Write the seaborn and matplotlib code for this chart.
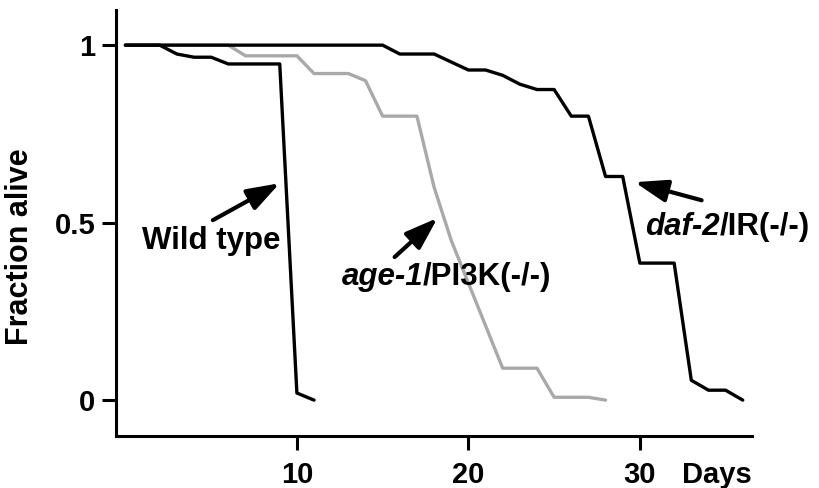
import pandas as pd
import matplotlib
matplotlib.use("Agg")
import matplotlib.pyplot as plt
import seaborn as sns

# survival curves (days, fraction alive)
wt_days = [0, 2, 3, 4, 5, 6, 9, 10, 11]
wt_alive = [1.0, 1.0, 0.975, 0.966, 0.966, 0.947, 0.947, 0.02, 0.0]

age1_days = [0, 6, 7, 10, 11, 13, 14, 15, 17, 18, 19, 22, 24, 25, 27, 28]
age1_alive = [1.0, 1.0, 0.97, 0.97, 0.92, 0.92, 0.90, 0.80, 0.80, 0.60, 0.45,
              0.09, 0.09, 0.008, 0.008, 0.0]

daf2_days = [0, 15, 16, 18, 20, 21, 22, 23, 24, 25, 26, 27, 28, 29, 30, 32,
             33, 34, 35, 36]
daf2_alive = [1.0, 1.0, 0.975, 0.975, 0.93, 0.93, 0.915, 0.89, 0.875, 0.875,
              0.80, 0.80, 0.63, 0.63, 0.386, 0.386, 0.056, 0.028, 0.028, 0.0]

x_ticks = [10, 20, 30]
y_ticks = [0, 0.5, 1]
y_tick_labels = ["0", "0.5", "1"]

sns.set_style("white")
plt.rcParams["font.family"] = ["Liberation Sans", "DejaVu Sans"]
plt.rcParams["font.weight"] = "bold"
plt.rcParams["text.color"] = "black"
plt.rcParams["axes.labelcolor"] = "black"
plt.rcParams["xtick.color"] = "black"
plt.rcParams["ytick.color"] = "black"

fig = plt.figure(figsize=(8.19, 4.88), dpi=100)
ax = fig.add_axes([0.1416, 0.1066, 0.918 - 0.1416, 0.9795 - 0.1066])

lw = 2.4
sns.lineplot(x=age1_days, y=age1_alive, color="#a9a9a9", lw=lw, ax=ax,
             estimator=None, sort=False)
sns.lineplot(x=wt_days, y=wt_alive, color="black", lw=lw, ax=ax,
             estimator=None, sort=False)
sns.lineplot(x=daf2_days, y=daf2_alive, color="black", lw=lw, ax=ax,
             estimator=None, sort=False)

ax.set_xlim(-0.55, 36.53)
ax.set_ylim(-0.101, 1.099)
ax.set_xticks(x_ticks)
ax.set_yticks(y_ticks)
ax.set_yticklabels(y_tick_labels)
ax.tick_params(axis="both", direction="out", length=10, width=2.2,
               labelsize=21, color="black", bottom=True, left=True)
ax.tick_params(axis="x", pad=8)
ax.tick_params(axis="y", pad=5)
for lab in ax.get_xticklabels() + ax.get_yticklabels():
    lab.set_fontweight("bold")
sns.despine(ax=ax)
for s in ["left", "bottom"]:
    ax.spines[s].set_linewidth(2.2)
    ax.spines[s].set_color("black")
ax.set_xlabel("")
ax.set_ylabel("Fraction alive", fontsize=22, fontweight="bold")
ax.yaxis.set_label_coords(-0.128, 0.444)

ax.annotate("Days", xy=(36.53, 0), xycoords=("data", "axes fraction"),
            xytext=(0, -18), textcoords="offset points", ha="right",
            va="top", fontsize=21, fontweight="bold")

arrow = dict(arrowstyle="-|>,head_length=1.1,head_width=0.38", lw=3,
             color="black", mutation_scale=18, shrinkA=0, shrinkB=0)
ax.annotate("", xy=(9.0, 0.611), xytext=(5.1, 0.507), arrowprops=arrow)
ax.annotate("", xy=(18.2, 0.513), xytext=(15.7, 0.403), arrowprops=arrow)
ax.annotate("", xy=(29.7, 0.614), xytext=(33.6, 0.563), arrowprops=arrow)

fs = 22.5
ax.text(4.99, 0.448, "Wild type", fontsize=fs, fontweight="bold",
        ha="center", va="center")

t1 = ax.text(12.6, 0.346, "age-1", fontsize=fs, fontweight="bold",
             style="italic", ha="left", va="center")
ax.annotate("/PI3K(-/-)", xy=(1, 0), xycoords=t1, ha="left", va="bottom",
            fontsize=fs, fontweight="bold")

t2 = ax.text(30.3, 0.487, "daf-2", fontsize=fs, fontweight="bold",
             style="italic", ha="left", va="center")
ax.annotate("/IR(-/-)", xy=(1, 0), xycoords=t2, ha="left", va="bottom",
            fontsize=fs, fontweight="bold")

fig.savefig("out.png", dpi=100)
